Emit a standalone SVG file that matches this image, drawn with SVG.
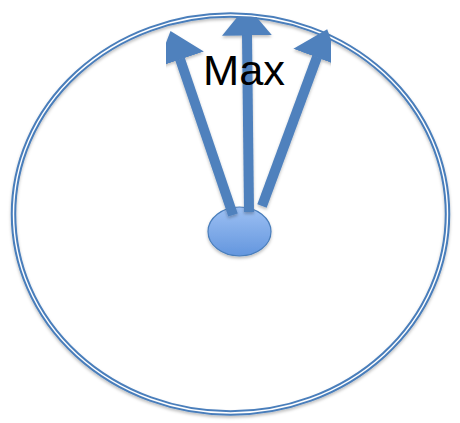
<svg xmlns="http://www.w3.org/2000/svg" width="460" height="423" viewBox="0 0 460 423">
  <defs>
    <style>
      .ring { fill: none; stroke: #4a7ebb; stroke-width: 5.5; }
      .ring-inner { fill: none; stroke: #ffffff; stroke-width: 1.4; }
      .shaft { stroke: #4f81bd; stroke-width: 10; fill: none; marker-end: url(#head); }
      .label { font-family: "Liberation Sans", Arial, sans-serif; font-size: 42px; fill: #000000; }
    </style>
    <marker id="head" viewBox="0 0 3 5" markerWidth="3" markerHeight="5" refX="0.05" refY="2.5" orient="auto" markerUnits="strokeWidth">
      <path d="M0,0 L3,2.5 L0,5 z" fill="#4f81bd"/>
    </marker>
    <linearGradient id="hub" x1="0" y1="0" x2="0" y2="1">
      <stop offset="0" stop-color="#9dc0f3"/>
      <stop offset="1" stop-color="#6396de"/>
    </linearGradient>
    <filter id="sh" x="-10%" y="-10%" width="120%" height="130%">
      <feDropShadow dx="0" dy="2" stdDeviation="1.5" flood-color="#000" flood-opacity="0.25"/>
    </filter>
  </defs>
  <g id="ring" filter="url(#sh)">
    <ellipse class="ring" cx="230.5" cy="214" rx="217" ry="199"/>
    <ellipse class="ring-inner" cx="230.5" cy="214" rx="217" ry="199"/>
  </g>
  <g id="hub-node" filter="url(#sh)">
    <ellipse cx="239.5" cy="231.5" rx="31.5" ry="24.5" fill="url(#hub)" stroke="#4a7ebb" stroke-width="1.2"/>
  </g>
  <g id="connectors" filter="url(#sh)">
    <line class="shaft" x1="233" y1="215" x2="180" y2="59"/>
    <line class="shaft" x1="249" y1="212" x2="247" y2="35"/>
    <line class="shaft" x1="262" y1="206" x2="317" y2="57"/>
  </g>
  <g id="label">
    <text class="label" x="203" y="85" textLength="82" lengthAdjust="spacingAndGlyphs">Max</text>
  </g>
</svg>
